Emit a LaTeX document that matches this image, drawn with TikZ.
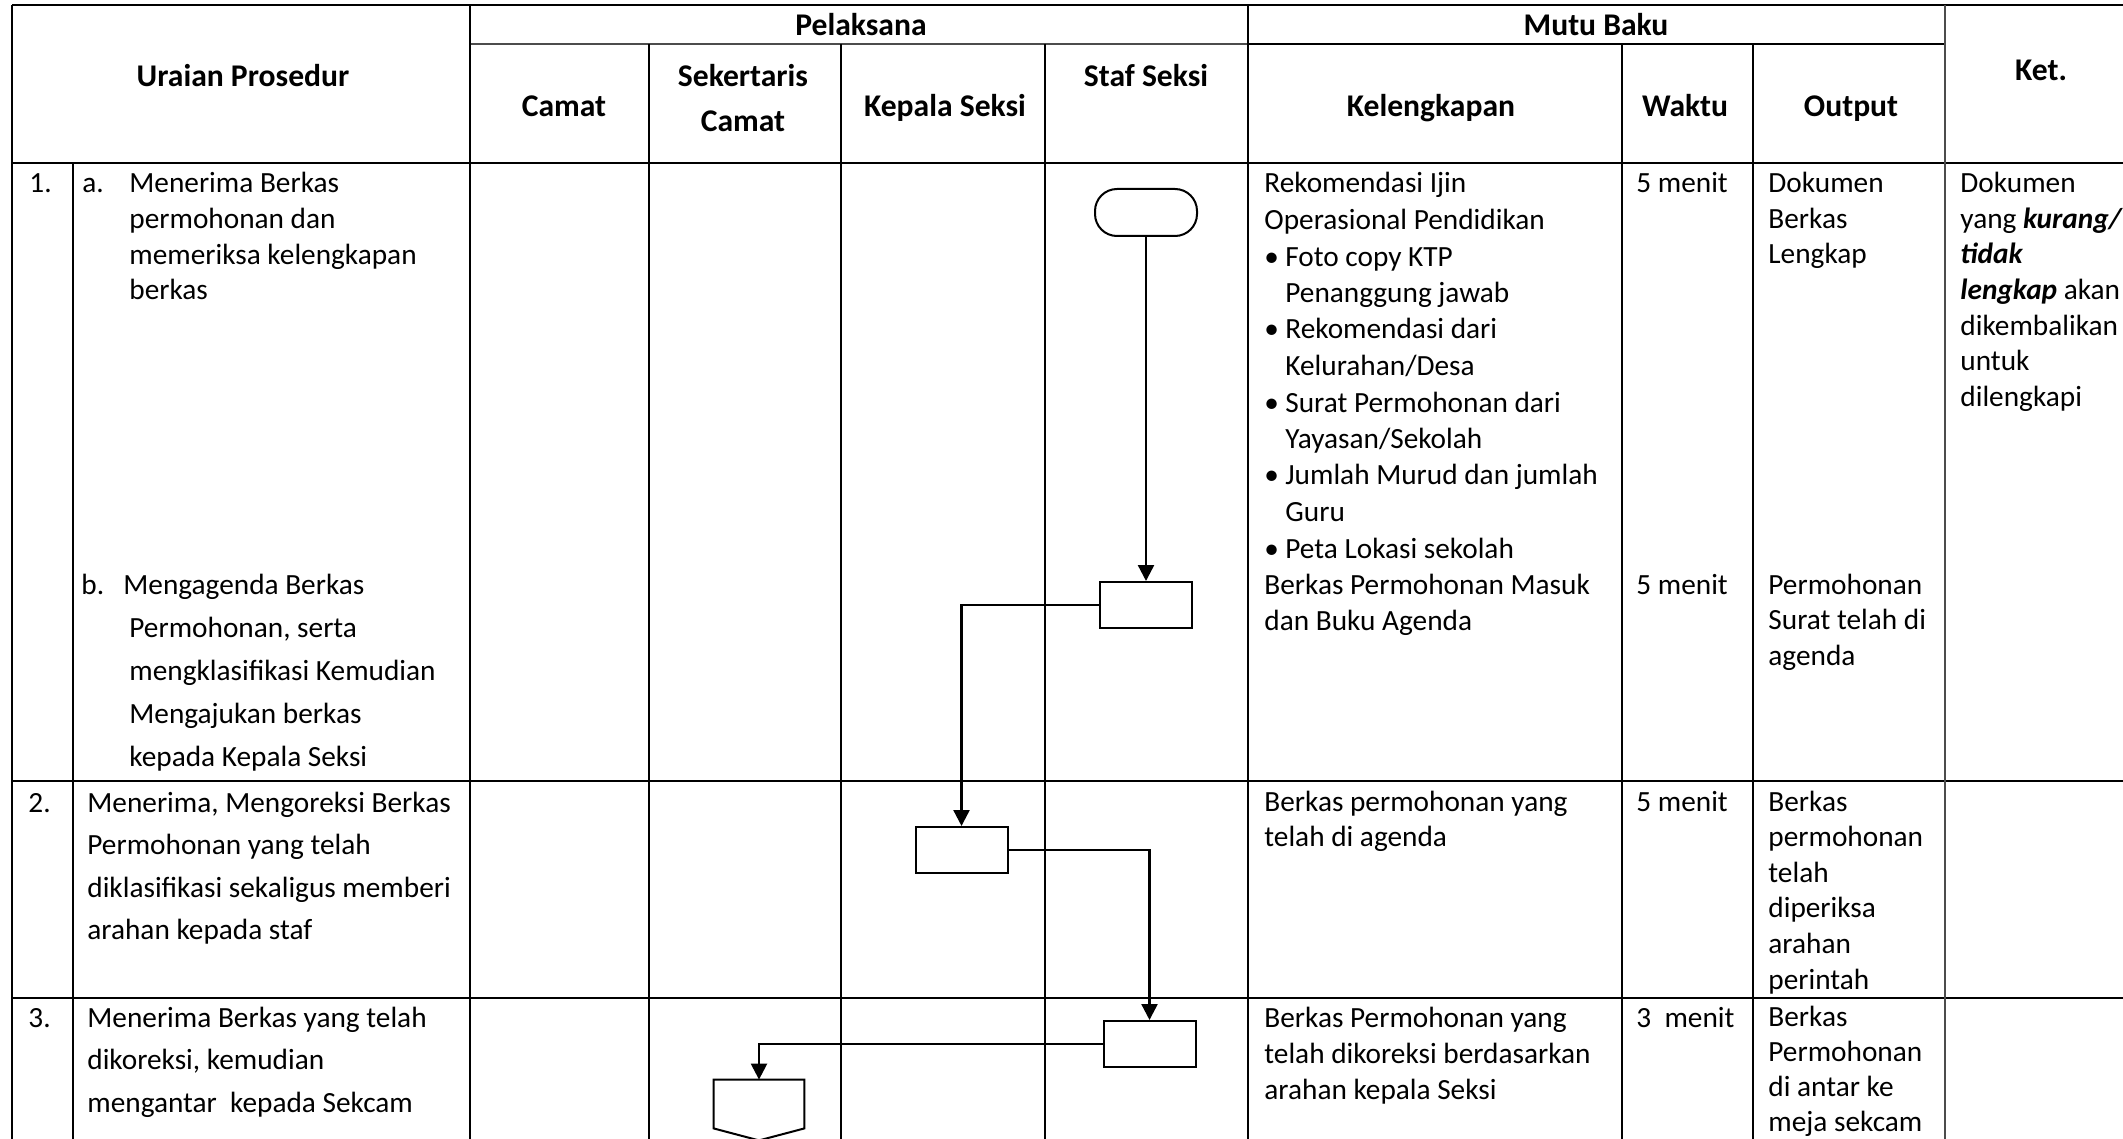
\documentclass[tikz,border=0pt]{standalone}
\usepackage{fontspec}
\setmainfont{Carlito}
\usetikzlibrary{arrows.meta,calc}

% stacked lines with a fixed pitch (#1 in pt); baseline = first line
\newcommand\lrows[2]{{\fontsize{14.65}{#1}\selectfont\begin{tabular}[t]{@{}l@{}}#2\end{tabular}}}
\newcommand\crows[2]{{\fontsize{15.8}{#1}\selectfont\begin{tabular}[t]{@{}c@{}}#2\end{tabular}}}
\newcommand\bul{\makebox[10.5pt][l]{•}}
\newcommand\ind{\hspace*{10.5pt}}

\tikzset{
  rule/.style={line width=1pt, draw=black},
  thinrule/.style={line width=0.7pt, draw=black!70},
  hdr/.style={anchor=base, inner sep=0pt, font=\fontsize{15.8}{18}\selectfont\bfseries},
  txt/.style={anchor=base west, inner sep=0pt, font=\fontsize{14.65}{18}\selectfont},
  procbox/.style={draw, line width=1pt, rectangle, inner sep=0pt,
                  minimum width=46pt, minimum height=23pt},
  termbox/.style={draw, line width=1pt, rectangle, rounded corners=11pt,
                  inner sep=0pt, minimum width=51pt, minimum height=23.5pt},
  flow/.style={line width=1.2pt, -{Triangle[length=8pt,width=8pt]}},
}

\begin{document}
\begin{tikzpicture}[x=0.5pt,y=-0.5pt]
\useasboundingbox (0,0) rectangle (2123,1139);
\clip (0,0) rectangle (2123,1139);
\fill[white] (0,0) rectangle (2123,1139);

% ---- table grid ----
\draw[rule] (12,5) -- (2130,5);
\draw[thinrule] (470,44) -- (1248,44);
\draw[rule] (1248,44) -- (1946,44);
\draw[rule] (12,163) -- (2130,163);
\draw[rule] (12,781) -- (2130,781);
\draw[rule] (12,998) -- (2130,998);
\draw[rule] (12,5) -- (12,1145);
\draw[rule] (73,163) -- (73,1145);
\draw[rule] (470,5) -- (470,1145);
\foreach \xx in {649,841,1045,1622,1753} \draw[rule] (\xx,44) -- (\xx,1145);
\draw[rule] (1248,5) -- (1248,1145);
\draw[thinrule] (1945,5) -- (1945,1145);

% ---- header ----
\node[hdr] (hUraian) at (243,87) {Uraian Prosedur};
\node[hdr] (hPel) at (861,36) {Pelaksana};
\node[hdr] (hMutu) at (1596,36) {Mutu Baku};
\node[hdr] (hCamat) at (564,117) {Camat};
\node[hdr] (hSek) at (743,87) {\crows{22.5}{\bfseries Sekertaris\\\bfseries Camat}};
\node[hdr] (hKasi) at (945,117) {Kepala Seksi};
\node[hdr] (hStaf) at (1146,87) {Staf Seksi};
\node[hdr] (hKel) at (1431,117) {Kelengkapan};
\node[hdr] (hWaktu) at (1685,117) {Waktu};
\node[hdr] (hOut) at (1851,117) {Output};
\node[hdr] (hKet) at (2041,81) {Ket.};

% ---- row 1 ----
\node[txt] (n1) at (29,193) {1.};
\node[txt] (n1a) at (82,193) {a.};
\node[txt] (t1a) at (129,193) {\lrows{17.8}{Menerima Berkas\\permohonan dan\\memeriksa kelengkapan\\berkas}};
\node[txt] (n1b) at (81,594) {b.};
\node[txt] (t1b) at (129,594) {\lrows{21.5}{\hspace*{-3pt}Mengagenda Berkas\\Permohonan, serta\\mengklasifikasi Kemudian\\Mengajukan berkas\\kepada Kepala Seksi}};
\node[txt] (k1a) at (1264,193) {\lrows{18.25}{Rekomendasi Ijin\\Operasional Pendidikan\\
  \bul Foto copy KTP\\\ind Penanggung jawab\\
  \bul Rekomendasi dari\\\ind Kelurahan/Desa\\
  \bul Surat Permohonan dari\\\ind Yayasan/Sekolah\\
  \bul Jumlah Murud dan jumlah\\\ind Guru\\
  \bul Peta Lokasi sekolah}};
\node[txt] (k1b) at (1264,594) {\lrows{18}{Berkas Permohonan Masuk\\dan Buku Agenda}};
\node[txt] (w1a) at (1636,193) {5 menit};
\node[txt] (w1b) at (1636,594) {5 menit};
\node[txt] (o1a) at (1768,193) {\lrows{17.75}{Dokumen\\Berkas\\Lengkap}};
\node[txt] (o1b) at (1768,594) {\lrows{17.75}{Permohonan\\Surat telah di\\agenda}};
\node[txt] (ket1) at (1960,193) {\lrows{17.75}{Dokumen\\yang \textbf{\textit{kurang/}}\\\textbf{\textit{tidak}}\\\textbf{\textit{lengkap}} akan\\dikembalikan\\untuk\\dilengkapi}};

% ---- row 2 ----
\node[txt] (n2) at (28,812) {2.};
\node[txt] (t2) at (87,812) {\lrows{21.25}{Menerima, Mengoreksi Berkas\\Permohonan yang telah\\diklasifikasi sekaligus memberi\\arahan kepada staf}};
\node[txt] (k2) at (1264,811) {\lrows{17.5}{Berkas permohonan yang\\telah di agenda}};
\node[txt] (w2) at (1636,811) {5 menit};
\node[txt] (o2) at (1768,811) {\lrows{17.8}{Berkas\\permohonan\\telah\\diperiksa\\arahan\\perintah}};

% ---- row 3 ----
\node[txt] (n3) at (28,1027) {3.};
\node[txt] (t3) at (87,1027) {\lrows{21.25}{Menerima Berkas yang telah\\dikoreksi, kemudian\\mengantar\ \ kepada Sekcam}};
\node[txt] (k3) at (1264,1027) {\lrows{18}{Berkas Permohonan yang\\telah dikoreksi berdasarkan\\arahan kepala Seksi}};
\node[txt] (w3) at (1636,1027) {3\ \ menit};
\node[txt] (o3) at (1768,1026) {\lrows{17.65}{Berkas\\Permohonan\\di antar ke\\meja sekcam}};

% ---- flow symbols ----
\node[termbox] (term) at (1146,212.5) {};
\node[procbox] (b1) at (1146,605) {};
\node[procbox] (b2) at (961.5,850) {};
\node[procbox] (b3) at (1149.5,1044) {};
\node[draw=none, inner sep=0pt, minimum width=45pt, minimum height=24pt] (conn) at (759,1104) {};
\draw[line width=1pt] (conn.north west) -- (conn.north east) -- (conn.south east)
  -- ($(conn.south)+(0,12)$) -- (conn.south west) -- cycle;

% ---- connectors ----
\draw[flow] (term.south) -- (b1.north);
\draw[flow] (b1.west) -| (b2.north);
\draw[flow] (b2.east) -| (b3.north);
\draw[flow] (b3.west) -| (conn.north);
\end{tikzpicture}
\end{document}
